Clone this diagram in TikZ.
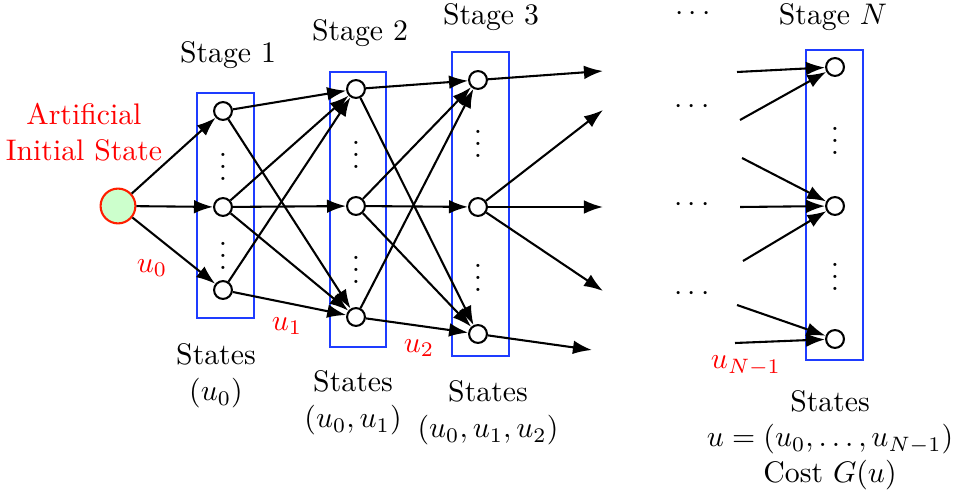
\documentclass[tikz,border=0pt]{standalone}
\usetikzlibrary{arrows.meta,positioning}
\definecolor{BoxBlue}  {RGB}{ 30, 60,255}
\definecolor{InitRed}  {RGB}{255, 30,  0}
\definecolor{InitGreen}{RGB}{204,255,204}
\definecolor{LabelRed} {RGB}{255,  0,  0}
\tikzset{
  %% 状态节点
  stnode/.style={circle,draw,line width=0.7pt,fill=white,inner sep=0pt,
                 minimum size=6.0pt},
  initnode/.style={circle,draw=InitRed,line width=0.7pt,fill=InitGreen,
                   inner sep=0pt,minimum size=11.7pt},
  %% 阶段方框
  stagebox/.style={draw=BoxBlue,line width=0.7pt},
  %% 标签
  ulabel/.style={text=LabelRed},
  stlabel/.style={align=center},
  %% 箭头
  tarr/.style={-{Latex[length=6.4pt,width=4.6pt]},line width=0.7pt},
}

\begin{document}
\begin{tikzpicture}[x=0.336pt,y=-0.336pt]
    \useasboundingbox (0,0) rectangle (958,496);

    %% ── 阶段方框 ─────────────────────────────────────
    \draw[stagebox] (197,93) rectangle (254,318);
    \draw[stagebox] (330,72) rectangle (386,347);
    \draw[stagebox] (452,52) rectangle (509,356);
    \draw[stagebox] (806,50) rectangle (863,360);

    %% ── 初始状态 ─────────────────────────────────────
    \node[initnode] (s0) at (118,206) {};
    \node[ulabel,stlabel] (init) at (84,132) {Artificial\\Initial State};

    %% ── 第一阶段 ─────────────────────────────────────
    \node[stnode] (a1) at (223,111) {};
    \node[stnode] (a2) at (223,207) {};
    \node[stnode] (a3) at (223,290) {};
    \node (ad1) at (223,158) {$\vdots$};
    \node (ad2) at (223,247) {$\vdots$};

    %% ── 第二阶段 ─────────────────────────────────────
    \node[stnode] (b1) at (356,89) {};
    \node[stnode] (b2) at (356,206) {};
    \node[stnode] (b3) at (356,317) {};
    \node (bd1) at (356,146) {$\vdots$};
    \node (bd2) at (356,261) {$\vdots$};

    %% ── 第三阶段 ─────────────────────────────────────
    \node[stnode] (c1) at (478,80) {};
    \node[stnode] (c2) at (478,207) {};
    \node[stnode] (c3) at (478,334) {};
    \node (cd1) at (478,135) {$\vdots$};
    \node (cd2) at (478,269) {$\vdots$};

    %% ── 第 N 阶段 ────────────────────────────────────
    \node[stnode] (n1) at (835,67) {};
    \node[stnode] (n2) at (835,206) {};
    \node[stnode] (n3) at (835,339) {};
    \node (nd1) at (835,132) {$\vdots$};
    \node (nd2) at (835,268) {$\vdots$};

    %% ── 连线 ─────────────────────────────────────────
    \draw[tarr] (s0) -- (a1);
    \draw[tarr] (s0) -- (a2);
    \draw[tarr] (s0) -- (a3);

    \draw[tarr] (a1) -- (b1);
    \draw[tarr] (a1) -- (b3);
    \draw[tarr] (a2) -- (b1);
    \draw[tarr] (a2) -- (b2);
    \draw[tarr] (a2) -- (b3);
    \draw[tarr] (a3) -- (b1);
    \draw[tarr] (a3) -- (b3);

    \draw[tarr] (b1) -- (c1);
    \draw[tarr] (b1) -- (c3);
    \draw[tarr] (b2) -- (c1);
    \draw[tarr] (b2) -- (c2);
    \draw[tarr] (b2) -- (c3);
    \draw[tarr] (b3) -- (c1);
    \draw[tarr] (b3) -- (c3);

    %% 第三阶段出边（开口）
    \coordinate (o1) at (603,71);
    \coordinate (o2) at (603,110);
    \coordinate (o3) at (603,207);
    \coordinate (o4) at (603,291);
    \coordinate (o5) at (592,350);
    \draw[tarr] (c1) -- (o1);
    \draw[tarr] (c2) -- (o2);
    \draw[tarr] (c2) -- (o3);
    \draw[tarr] (c2) -- (o4);
    \draw[tarr] (c3) -- (o5);

    %% 第 N 阶段入边（开口）
    \coordinate (i1) at (737,72);
    \coordinate (i2) at (740,120);
    \coordinate (i3) at (742,158);
    \coordinate (i4) at (740,207);
    \coordinate (i5) at (743,261);
    \coordinate (i6) at (737,305);
    \coordinate (i7) at (735,343);
    \draw[tarr] (i1) -- (n1);
    \draw[tarr] (i2) -- (n1);
    \draw[tarr] (i3) -- (n2);
    \draw[tarr] (i4) -- (n2);
    \draw[tarr] (i5) -- (n2);
    \draw[tarr] (i6) -- (n3);
    \draw[tarr] (i7) -- (n3);

    %% 省略号
    \node[inner sep=0pt] (e0) at (693,14)  {$\cdots$};
    \node (e1) at (692,107) {$\cdots$};
    \node (e2) at (692,205) {$\cdots$};
    \node (e3) at (692,294) {$\cdots$};

    %% ── 阶段标题 ─────────────────────────────────────
    \node (t1) at (228,55) {Stage 1};
    \node (t2) at (360,33) {Stage 2};
    \node (t3) at (491,17) {Stage 3};
    \node (tn) at (833,17) {Stage $N$};

    %% ── 控制标签 ─────────────────────────────────────
    \node[ulabel] (u0) at (152,268) {$u_0$};
    \node[ulabel] (u1) at (287,326) {$u_1$};
    \node[ulabel] (u2) at (419,348) {$u_2$};
    \node[ulabel] (un) at (746,366) {$u_{N-1}$};

    %% ── 状态说明 ─────────────────────────────────────
    \node[stlabel] (l1) at (216,376) {States\\$(u_0)$};
    \node[stlabel] (l2) at (353,403) {States\\$(u_0,u_1)$};
    \node[stlabel] (l3) at (488,413) {States\\$(u_0,u_1,u_2)$};
    \node[stlabel] (ln) at (830,440)
      {States\\$u=(u_0,\ldots,u_{N-1})$\\Cost $G(u)$};
  \end{tikzpicture}
\end{document}
